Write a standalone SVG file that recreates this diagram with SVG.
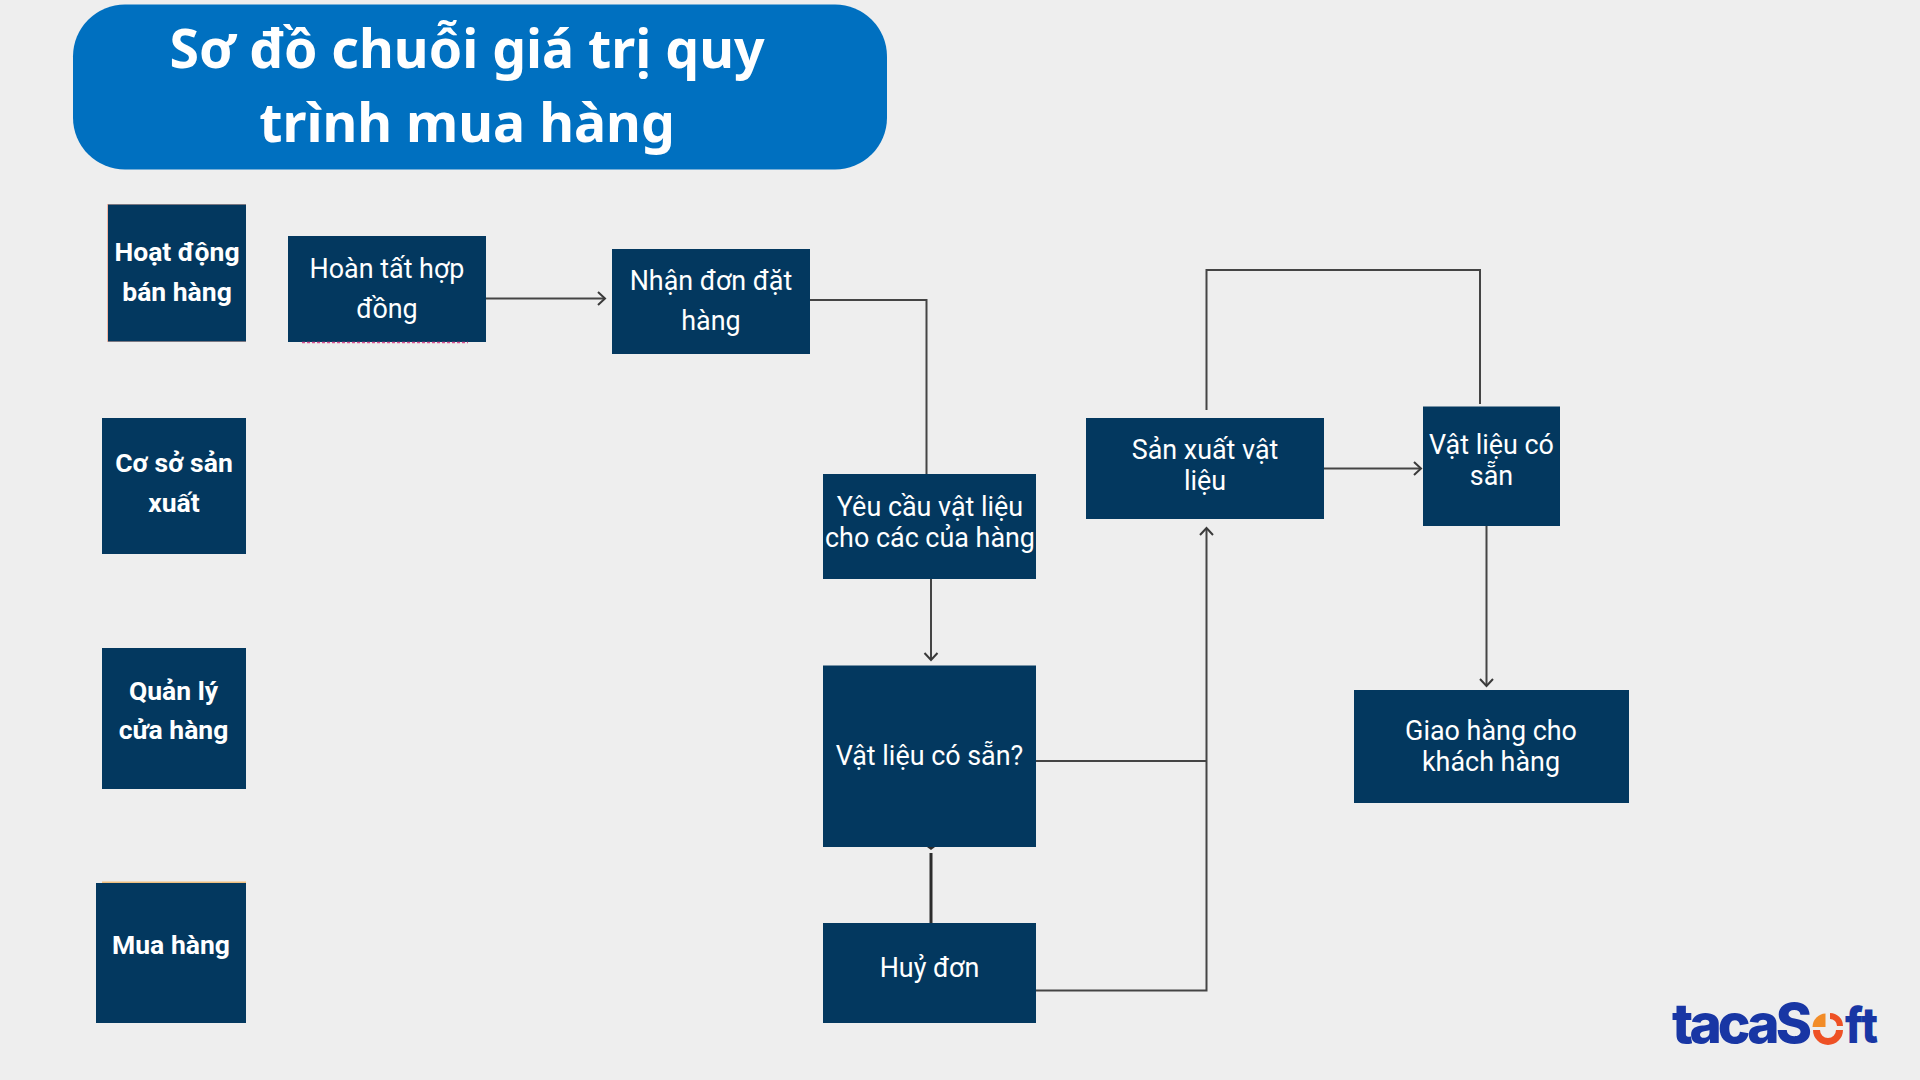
<svg xmlns="http://www.w3.org/2000/svg" width="1920" height="1080" viewBox="0 0 1920 1080">
<style>
.b{fill:#03385f}
.t{font-family:Roboto,"Noto Sans",sans-serif;font-size:26.9px;fill:#fff;text-anchor:middle}
.h{font-weight:700;font-size:26.5px}
.c{fill:none;stroke:#444;stroke-width:2}
.title{font-family:"Noto Sans","Open Sans",sans-serif;font-weight:700;font-size:53.6px;fill:#fff;text-anchor:middle}
</style>
<defs>
<marker id="a" markerUnits="userSpaceOnUse" markerWidth="16" markerHeight="16" refX="10" refY="8" orient="auto"><path d="M3 1.500L10 8L3 14.500" fill="none" stroke="#3a3a3a" stroke-width="2"/></marker>
</defs>
<rect width="1920" height="1080" fill="#eee"/>
<g id="connectors">
<path class="c" d="M486 298.500H605" marker-end="url(#a)"/>
<path class="c" d="M810 300H926.500V474"/>
<path class="c" d="M931 579V660" marker-end="url(#a)"/>
<path class="c" d="M931 853V923" style="stroke:#2c2c2c;stroke-width:3"/>
<path d="M927 847H935L931 850Z" fill="#2c2c2c"/>
<path class="c" d="M1036 761H1206.500"/>
<path class="c" d="M1036 990.500H1206.500V528" marker-end="url(#a)"/>
<path class="c" d="M1206.500 410V270H1480V404"/>
<path class="c" d="M1324 468.500H1421" marker-end="url(#a)"/>
<path class="c" d="M1486.500 526V686" marker-end="url(#a)"/>
</g>
<g id="title"><rect x="73" y="4.500" width="814" height="165" rx="52" fill="#0070c0"/>
<text class="title" x="467" y="68">Sơ đồ chuỗi giá trị quy</text>
<text class="title" x="467" y="142">trình mua hàng</text></g>
<g id="n1"><rect x="107" y="204" width="139" height="138" fill="#f3b8a6"/><rect class="b" x="108" y="204.500" width="138" height="137"/>
<text class="t h" x="177" y="261">Hoạt động</text><text class="t h" x="177" y="301">bán hàng</text></g>
<g id="n2"><rect class="b" x="102" y="418" width="144" height="136"/>
<text class="t h" x="174" y="472">Cơ sở sản</text><text class="t h" x="174" y="512">xuất</text></g>
<g id="n3"><rect class="b" x="102" y="648" width="144" height="141"/>
<text class="t h" x="173.500" y="699.500">Quản lý</text><text class="t h" x="173.500" y="739">cửa hàng</text></g>
<g id="n4"><rect x="102" y="881.500" width="144" height="3" fill="#f0c080"/><rect class="b" x="96" y="883" width="150" height="140"/>
<text class="t h" x="171" y="954">Mua hàng</text></g>
<g id="n5"><rect class="b" x="288" y="236" width="198" height="106"/><path d="M302 342.500H468" stroke="#d84f8f" stroke-width="1.500" stroke-dasharray="3 2"/>
<text class="t" x="387" y="278">Hoàn tất hợp</text><text class="t" x="387" y="318">đồng</text></g>
<g id="n6"><rect class="b" x="612" y="249" width="198" height="105"/>
<text class="t" x="711" y="290">Nhận đơn đặt</text><text class="t" x="711" y="330">hàng</text></g>
<g id="n7"><rect class="b" x="823" y="474" width="213" height="105"/>
<text class="t" x="930" y="516">Yêu cầu vật liệu</text><text class="t" x="930" y="547">cho các của hàng</text></g>
<g id="n8"><rect class="b" x="823" y="665.500" width="213" height="181.500"/>
<text class="t" x="929.500" y="765">Vật liệu có sẵn?</text></g>
<g id="n9"><rect class="b" x="823" y="923" width="213" height="100"/>
<text class="t" x="929.500" y="977">Huỷ đơn</text></g>
<g id="n10"><rect class="b" x="1086" y="418" width="238" height="101"/>
<text class="t" x="1205" y="459">Sản xuất vật</text><text class="t" x="1205" y="490">liệu</text></g>
<g id="n11"><rect class="b" x="1423" y="406.500" width="137" height="119.500"/>
<text class="t" x="1491.500" y="454">Vật liệu có</text><text class="t" x="1491.500" y="485">sẵn</text></g>
<g id="n12"><rect class="b" x="1354" y="690" width="275" height="113"/>
<text class="t" x="1491" y="739.500">Giao hàng cho</text><text class="t" x="1491" y="770.500">khách hàng</text></g>
<g id="logo">
<text y="1043" font-family="Inter,'Liberation Sans',sans-serif" font-weight="800" font-size="55" fill="#1836a4"><tspan x="1672" textLength="140" lengthAdjust="spacing">tacaS</tspan><tspan x="1816" font-size="42" fill="#ee5125">o</tspan><tspan x="1845" font-size="50" textLength="33" lengthAdjust="spacingAndGlyphs">ft</tspan></text>
<circle cx="1828" cy="1027" r="16" fill="#eee"/>
<path d="M1825.500 1013.500V1027H1812.500A13.500 13.500 0 0 1 1825.500 1013.500Z" fill="#f28c28"/>
<path d="M1830 1016A10 10 0 0 1 1840 1026" fill="none" stroke="#ee5125" stroke-width="6"/>
<path d="M1816.500 1030A11.500 11.500 0 0 0 1839.500 1030" fill="none" stroke="#ee5125" stroke-width="7"/>
</g>
</svg>
